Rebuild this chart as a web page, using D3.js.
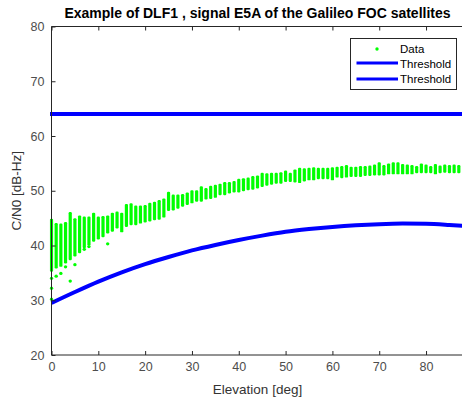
<!DOCTYPE html>
<html>
<head>
<meta charset="utf-8">
<title>DLF1 E5A</title>
<script src="https://cdn.jsdelivr.net/npm/d3@7"></script>
<style>
  body { margin: 0; background: #fff; }
  svg { display: block; }
  text { font-family: "Liberation Sans", Arial, sans-serif; }
  .axis path, .axis line { stroke: #262626; }
  .axis text { fill: #4d4d4d; font-size: 12.5px; }
</style>
</head>
<body>
<div id="chart"></div>
<script>
// elevation bins [deg] and the min / max C/N0 seen in each bin
var elev = d3.range(0, 88);
var cnLow = [35.2,35.8,36.1,36.7,37.3,38.0,38.6,39.5,40.0,40.7,41.1,41.5,42.2,42.5,43.1,42.4,
  43.4,43.7,43.7,44.0,44.2,44.4,44.6,44.7,45.1,46.3,46.4,46.7,47.1,47.4,47.7,48.0,48.0,48.4,
  48.5,48.7,49.2,49.2,49.5,49.7,49.7,49.9,50.1,50.2,50.4,50.7,50.9,51.1,51.3,51.3,51.6,51.6,
  51.5,51.4,51.7,51.9,51.9,52.1,52.1,52.1,51.9,52.4,52.3,52.4,52.5,52.5,52.5,52.7,52.7,52.8,
  52.8,52.8,53.0,53.0,53.0,53.0,53.0,53.0,53.2,53.2,53.2,53.2,53.0,53.2,53.3,53.2,53.2,53.2];
var cnHigh = [44.9,44.1,44.0,44.3,46.1,45.0,45.5,45.3,45.3,46.0,45.3,45.4,45.5,46.0,46.2,46.0,
  47.6,47.7,47.3,47.3,47.4,47.8,48.0,48.3,48.6,49.8,49.3,49.3,49.4,49.7,50.1,50.1,50.8,50.5,
  50.9,51.1,51.3,51.6,51.6,51.8,52.2,52.3,52.4,52.7,52.8,53.3,53.2,53.3,53.3,53.4,53.7,53.3,
  53.9,54.2,54.1,54.2,54.3,54.2,54.2,54.2,54.3,54.4,54.5,54.7,54.4,54.4,54.5,54.5,54.6,54.8,
  55.2,54.7,55.0,55.2,55.2,54.9,54.8,54.7,54.5,55.0,54.8,54.5,54.9,54.6,54.8,54.7,54.8,54.7];

// isolated low points
var outElev = [0, 0, 0, 1, 2, 3, 4, 5, 7, 8, 12];
var outCn   = [34.0, 32.2, 30.2, 34.4, 34.9, 36.1, 33.5, 36.5, 39.3, 39.8, 40.3];

// threshold curves
var thrFlat = 64;
var thrElev = [0, 5, 10, 15, 20, 25, 30, 35, 40, 45, 50, 55, 60, 65, 70, 75, 80, 85, 88];
var thrCn   = [29.5, 31.5, 33.4, 35.1, 36.6, 37.9, 39.1, 40.1, 41.0, 41.8, 42.5, 43.0, 43.4,
               43.7, 43.9, 44.0, 43.95, 43.75, 43.6];

var xTicks = d3.range(0, 90, 10);
var yTicks = d3.range(20, 90, 10);

var W = 462, H = 401;
var margin = {top: 26.5, left: 51.5, right: -1.5, bottom: 46};

var svg = d3.select('#chart').append('svg')
  .attr('width', W).attr('height', H);

var x = d3.scaleLinear().domain([0, 88]).range([margin.left, W - margin.right]);
var y = d3.scaleLinear().domain([20, 80]).range([H - margin.bottom, margin.top]);

svg.append('defs').append('clipPath').attr('id', 'clip')
  .append('rect')
    .attr('x', margin.left - 2).attr('y', margin.top)
    .attr('width', W).attr('height', y(20) - margin.top);

var plot = svg.append('g').attr('clip-path', 'url(#clip)');

// data strips
plot.selectAll('rect.strip')
  .data(elev).enter()
  .append('rect').attr('class', 'strip')
    .attr('x', function(d){ return x(d) - 1.6; })
    .attr('width', 3.2)
    .attr('y', function(d, i){ return y(cnHigh[i]); })
    .attr('height', function(d, i){ return y(cnLow[i]) - y(cnHigh[i]); })
    .attr('rx', 1.2)
    .attr('fill', '#00ff00');

plot.selectAll('circle.out')
  .data(outElev).enter()
  .append('circle').attr('class', 'out')
    .attr('cx', function(d){ return x(d); })
    .attr('cy', function(d, i){ return y(outCn[i]); })
    .attr('r', 1.7)
    .attr('fill', '#00ff00');

// thresholds
plot.append('line')
  .attr('x1', x(0) - 1.5).attr('x2', W)
  .attr('y1', y(thrFlat)).attr('y2', y(thrFlat))
  .attr('stroke', '#0000ff').attr('stroke-width', 4);

var line = d3.line()
  .x(function(d){ return x(d); })
  .y(function(d, i){ return y(thrCn[i]); })
  .curve(d3.curveMonotoneX);

plot.append('path')
  .datum(thrElev)
  .attr('d', line)
  .attr('fill', 'none')
  .attr('stroke', '#0000ff').attr('stroke-width', 4);

// axes (ticks inside, like matlab)
var gx = svg.append('g').attr('class', 'axis')
  .attr('transform', 'translate(0,' + y(20) + ')')
  .call(d3.axisBottom(x).tickValues(xTicks).tickSize(-4).tickSizeOuter(0).tickPadding(7));
gx.select('.domain').remove();

svg.append('g').attr('class', 'axis')
  .attr('transform', 'translate(0,' + y(80) + ')')
  .call(d3.axisTop(x).tickValues(xTicks).tickSize(-4).tickSizeOuter(0).tickFormat(''))
  .select('.domain').remove();

var gy = svg.append('g').attr('class', 'axis')
  .attr('transform', 'translate(' + x(0) + ',0)')
  .call(d3.axisLeft(y).tickValues(yTicks).tickSize(-4).tickSizeOuter(0).tickPadding(7));
gy.select('.domain').remove();

svg.append('path')
  .attr('d', 'M' + W + ',' + y(80) + 'H' + x(0) + 'V' + y(20) + 'H' + W)
  .attr('fill', 'none').attr('stroke', '#262626').attr('stroke-width', 1);

// labels
svg.append('text')
  .attr('x', (x(0) + x(88)) / 2).attr('y', 18)
  .attr('text-anchor', 'middle')
  .style('font-size', '14px').style('font-weight', 'bold').attr('fill', '#000')
  .text('Example of DLF1 , signal E5A of the Galileo FOC satellites');

svg.append('text')
  .attr('x', (x(0) + x(88)) / 2).attr('y', 394)
  .attr('text-anchor', 'middle')
  .style('font-size', '13.5px').attr('fill', '#333')
  .text('Elevation [deg]');

svg.append('text')
  .attr('transform', 'translate(21,' + ((y(20) + y(80)) / 2) + ') rotate(-90)')
  .attr('text-anchor', 'middle')
  .style('font-size', '13.5px').attr('fill', '#333')
  .text('C/N0 [dB-Hz]');

// legend
var leg = svg.append('g').attr('transform', 'translate(350.5,38.5)');
leg.append('rect')
  .attr('width', 106).attr('height', 51)
  .attr('fill', '#fff').attr('stroke', '#262626').attr('stroke-width', 1);
leg.append('circle').attr('cx', 26.5).attr('cy', 10.5).attr('r', 1.7).attr('fill', '#00ff00');
[24.5, 40.5].forEach(function(ly){
  leg.append('line').attr('x1', 6).attr('x2', 47.5).attr('y1', ly).attr('y2', ly)
    .attr('stroke', '#0000ff').attr('stroke-width', 3);
});
['Data', 'Threshold', 'Threshold'].forEach(function(t, i){
  leg.append('text').attr('x', 49.5).attr('y', 10.5 + i * 15)
    .attr('dy', '0.35em').style('font-size', '11.5px').attr('fill', '#000').text(t);
});
</script>
</body>
</html>
